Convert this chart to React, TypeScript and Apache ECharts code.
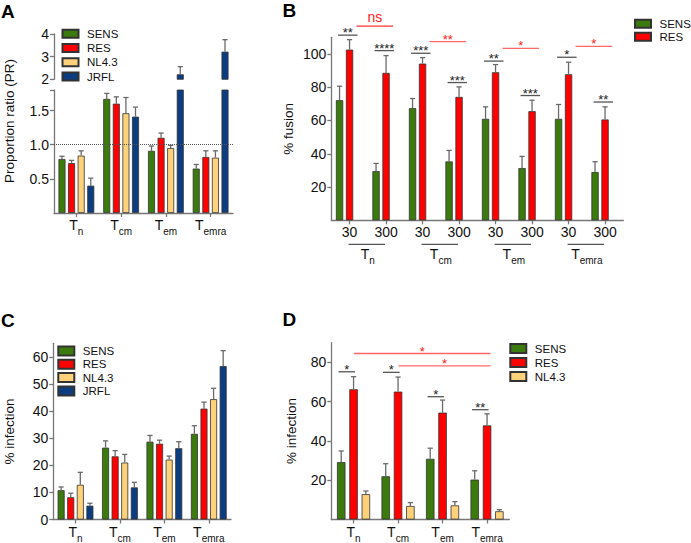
import React, { useEffect, useRef } from 'react';
import * as echarts from 'echarts';

// ---------- shared ----------
const cellTypes = ['Tn', 'Tcm', 'Tem', 'Temra'];
const seriesNames = ['SENS', 'RES', 'NL4.3', 'JRFL'];

// ---------- Panel A : proportion ratio ----------
const aSens = [0.79, 1.67, 0.91, 0.65];
const aSensErr = [0.04, 0.08, 0.07, 0.06];
const aRes = [0.73, 1.6, 1.1, 0.82];
const aResErr = [0.04, 0.1, 0.07, 0.09];
const aNl = [0.84, 1.46, 0.95, 0.81];
const aNlErr = [0.07, 0.23, 0.04, 0.1];
const aJrfl = [0.4, 1.41, 2.22, 3.22];
const aJrflErr = [0.11, 0.14, 0.34, 0.53];
const aBreakLow = 1.8;
const aBreakHigh = 2;
const aLowTicks = [0.5, 1.0, 1.5];
const aHighTicks = [2, 3, 4];
const aRefLine = 1.0;

// ---------- Panel B : % fusion ----------
const bDoses = ['30', '300', '30', '300', '30', '300', '30', '300'];
const bSens = [72.2, 29.6, 67.4, 35.4, 61, 31.4, 61, 29];
const bSensErr = [8.4, 4.6, 5.8, 6.6, 7.2, 7.0, 8.6, 6.2];
const bRes = [102.6, 88.6, 94.2, 74.2, 89, 65.6, 87.8, 60.6];
const bResErr = [6.0, 10.4, 3.6, 6.0, 4.6, 6.6, 7.2, 7.6];
const bTicks = [20, 40, 60, 80, 100];
const bMax = 110;
// [fromCategory, toCategory, height, label, kind]
const bBrackets: [number, number, number, string, string][] = [
  [0, 0, 111.3, '**', 'pair'],
  [0, 1, 116.7, 'ns', 'across'],
  [1, 1, 102, '****', 'pair'],
  [2, 2, 100.4, '***', 'pair'],
  [2, 3, 107.4, '**', 'across'],
  [3, 3, 82.8, '***', 'pair'],
  [4, 4, 95.7, '**', 'pair'],
  [4, 5, 103.4, '*', 'across'],
  [5, 5, 75, '***', 'pair'],
  [6, 6, 98, '*', 'pair'],
  [6, 7, 104.6, '*', 'across'],
  [7, 7, 71.1, '**', 'pair'],
];

// ---------- Panel C : % infection ----------
const cSens = [10.8, 26.5, 28.7, 31.6];
const cSensErr = [1.2, 2.5, 2.3, 3.0];
const cRes = [8.2, 23.3, 27.95, 40.9];
const cResErr = [1.5, 2.1, 1.3, 2.4];
const cNl = [12.8, 21, 22.1, 44.4];
const cNlErr = [4.6, 3.0, 1.3, 4.0];
const cJrfl = [5.1, 11.85, 26.3, 56.6];
const cJrflErr = [0.9, 1.85, 2.4, 5.7];
const cTicks = [0, 10, 20, 30, 40, 50, 60];
const cMax = 65;

// ---------- Panel D : % infection ----------
const dSens = [29.2, 22, 30.9, 20.3];
const dSensErr = [5.7, 6.4, 5.4, 4.5];
const dRes = [66.3, 65.1, 54.4, 47.9];
const dResErr = [6.4, 7.4, 6.4, 5.9];
const dNl = [12.9, 6.9, 7.2, 4.2];
const dNlErr = [1.6, 1.7, 1.9, 0.8];
const dTicks = [20, 40, 60, 80];
const dMax = 90;
const dBrackets: [number, number, number, string, string][] = [
  [0, 0, 75.2, '*', 'pair'],
  [0, 3, 84.5, '*', 'across'],
  [1, 1, 74.9, '*', 'pair'],
  [1, 3, 78.2, '*', 'across'],
  [2, 2, 62.5, '*', 'pair'],
  [3, 3, 55.9, '**', 'pair'],
];

// ---------- styles ----------
const FONT = '"Liberation Sans", Arial, Helvetica, sans-serif';
const COLORS: Record<string, string> = {
  SENS: '#3b7b0d',
  RES: '#ff0000',
  'NL4.3': '#fdd27b',
  JRFL: '#0b3d80',
};
const AXIS = { color: '#777777', width: 1.3 };
const ERR = '#6a6a6a';
const TXT = '#111111';

function bars(name: string, xi: number, yi: number, data: any[], bw: number, gap: string, extra: any = {}) {
  return {
    type: 'bar',
    name,
    xAxisIndex: xi,
    yAxisIndex: yi,
    data,
    barWidth: bw,
    barGap: gap,
    silent: true,
    itemStyle: { color: COLORS[name] || 'transparent', borderColor: COLORS[name] ? '#333' : 'transparent', borderWidth: 0.8 },
    ...extra,
  };
}

function errBars(id: string, xi: number, yi: number, vals: number[], errs: number[], k: number, n: number, spacing: number, keep: (v: number) => boolean) {
  const data: number[][] = [];
  vals.forEach((v, i) => {
    if (keep(v)) data.push([i, v, v + errs[i]]);
  });
  return {
    type: 'custom',
    name: id,
    xAxisIndex: xi,
    yAxisIndex: yi,
    silent: true,
    clip: false,
    z: 5,
    data,
    renderItem: (params: any, api: any) => {
      const p0 = api.coord([api.value(0), api.value(1)]);
      const p1 = api.coord([api.value(0), api.value(2)]);
      const x = p0[0] + (k - (n - 1) / 2) * spacing;
      return {
        type: 'group',
        children: [
          { type: 'line', shape: { x1: x, y1: p0[1], x2: x, y2: p1[1] }, style: { stroke: ERR, lineWidth: 1.3 } },
          { type: 'line', shape: { x1: x - 2.6, y1: p1[1], x2: x + 2.6, y2: p1[1] }, style: { stroke: ERR, lineWidth: 1.3 } },
        ],
      };
    },
  };
}

function brackets(id: string, xi: number, yi: number, list: [number, number, number, string, string][], off: { pair: number[]; across: number[] }) {
  return {
    type: 'custom',
    name: id,
    xAxisIndex: xi,
    yAxisIndex: yi,
    silent: true,
    clip: false,
    z: 6,
    data: list.map((b) => [b[0], b[2]]),
    renderItem: (params: any, api: any) => {
      const b = list[params.dataIndex];
      const red = b[4] === 'across';
      const o = red ? off.across : off.pair;
      const p1 = api.coord([b[0], b[2]]);
      const p2 = api.coord([b[1], b[2]]);
      const x1 = p1[0] + o[0];
      const x2 = p2[0] + o[1];
      const y = p1[1];
      const isNs = b[3] === 'ns';
      return {
        type: 'group',
        children: [
          { type: 'line', shape: { x1, y1: y, x2, y2: y }, style: { stroke: red ? (isNs ? '#ff3030' : '#ff6868') : '#555', lineWidth: 1.3 } },
          {
            type: 'text',
            x: (x1 + x2) / 2,
            y: isNs ? y - 9.2 : y - 2.5,
            style: {
              text: b[3],
              fill: red ? '#ff1a1a' : '#222',
              font: `${isNs ? 14 : 13}px ${FONT}`,
              textAlign: 'center',
              textVerticalAlign: 'middle',
            },
          },
        ],
      };
    },
  };
}

function tLabel(fs: number, ss: number, margin: number) {
  return {
    margin,
    interval: 0,
    hideOverlap: false,
    formatter: (v: string) => `{t|T}{s|${v.slice(1)}}`,
    rich: {
      t: { fontFamily: FONT, fontSize: fs, lineHeight: 18, color: TXT, verticalAlign: 'top' },
      s: { fontFamily: FONT, fontSize: ss, lineHeight: 10, color: TXT, verticalAlign: 'bottom' },
    },
  };
}

function catAxis(gridIndex: number, data: string[], label: any) {
  return {
    type: 'category',
    gridIndex,
    data,
    axisLine: { show: true, onZero: false, lineStyle: AXIS },
    axisTick: { show: true, alignWithLabel: true, interval: 0, length: 4, lineStyle: AXIS },
    axisLabel: label,
    splitLine: { show: false },
  };
}

function valAxis(gridIndex: number, min: number, max: number, ticks: number[], labels: number[], fmt: (v: number) => string, extra: any = {}) {
  return {
    type: 'value',
    gridIndex,
    min,
    max,
    splitLine: { show: false },
    axisLine: { show: true, lineStyle: AXIS },
    axisTick: { show: true, length: 4, lineStyle: AXIS, customValues: ticks },
    axisLabel: { fontFamily: FONT, fontSize: 14, color: TXT, margin: 5, customValues: labels, formatter: fmt },
    ...extra,
  };
}

function legend(names: string[], left: number, top: number, gap: number, ih: number) {
  return {
    orient: 'vertical',
    left,
    top,
    padding: 0,
    data: names,
    icon: 'rect',
    itemWidth: 16,
    itemHeight: ih,
    itemGap: gap,
    selectedMode: false,
    textStyle: { fontFamily: FONT, fontSize: 11.5, color: TXT, lineHeight: 12, padding: [0, 0, 0, 3.5] },
  };
}

function buildOption() {
  const aVals = [aSens, aRes, aNl, aJrfl];
  const aErrs = [aSensErr, aResErr, aNlErr, aJrflErr];
  const cVals = [cSens, cRes, cNl, cJrfl];
  const cErrs = [cSensErr, cResErr, cNlErr, cJrflErr];
  const dVals = [dSens, dRes, dNl];
  const dErrs = [dSensErr, dResErr, dNlErr];
  const bVals = [bSens, bRes];
  const bErrs = [bSensErr, bResErr];

  const series: any[] = [];
  const AW = 7, AG = '37%', AS = 7 * 1.37;
  const BW = 7.3, BG = '37%', BS = 7.3 * 1.37;
  const DW = 8.5, DG = '45%', DS = 8.5 * 1.45;

  // A upper (broken part) and lower
  aVals.forEach((vals, k) => {
    series.push(bars(seriesNames[k], 0, 0, vals.map((v) => (v > aBreakLow ? v : '-')), AW, AG));
  });
  aVals.forEach((vals, k) => {
    series.push(
      bars(seriesNames[k], 1, 1, vals, AW, AG,
        k === 0
          ? {
              markLine: {
                silent: true,
                symbol: 'none',
                label: { show: false },
                lineStyle: { type: 'dotted', color: '#555', width: 1 },
                data: [{ yAxis: aRefLine }],
              },
            }
          : {})
    );
  });
  aVals.forEach((vals, k) => {
    series.push(errBars(`errAu${k}`, 0, 0, vals, aErrs[k], k, 4, AS, (v) => v > aBreakLow));
    series.push(errBars(`errAl${k}`, 1, 1, vals, aErrs[k], k, 4, AS, (v) => v <= aBreakLow));
  });

  // B
  bVals.forEach((vals, k) => series.push(bars(seriesNames[k], 2, 2, vals, BW, BG)));
  series.push(bars('padB', 2, 2, bDoses.map(() => '-'), BW, BG));
  bVals.forEach((vals, k) => series.push(errBars(`errB${k}`, 2, 2, vals, bErrs[k], k, 3, BS, () => true)));
  series.push(brackets('brB', 2, 2, bBrackets, { pair: [-11.5, 8], across: [7, 7] }));
  // group underlines for B
  const groups = cellTypes.map((_, i) => [2 * i, 2 * i + 1]);
  series.push({
    type: 'custom',
    name: 'grpB',
    xAxisIndex: 2,
    yAxisIndex: 2,
    silent: true,
    clip: false,
    data: groups.map((g) => [g[0], 0, g[1]]),
    renderItem: (params: any, api: any) => {
      const p1 = api.coord([api.value(0), 0]);
      const p2 = api.coord([api.value(2), 0]);
      const y = p1[1] + 24;
      return { type: 'line', shape: { x1: p1[0] - 1, y1: y, x2: p2[0] - 1, y2: y }, style: { stroke: '#555', lineWidth: 1.2 } };
    },
  });

  // C
  cVals.forEach((vals, k) => series.push(bars(seriesNames[k], 4, 3, vals, AW, AG)));
  cVals.forEach((vals, k) => series.push(errBars(`errC${k}`, 4, 3, vals, cErrs[k], k, 4, AS, () => true)));

  // D
  dVals.forEach((vals, k) => series.push(bars(seriesNames[k], 5, 4, vals, DW, DG)));
  dVals.forEach((vals, k) => series.push(errBars(`errD${k}`, 5, 4, vals, dErrs[k], k, 3, DS, () => true)));
  series.push(brackets('brD', 5, 4, dBrackets, { pair: [-15, 1.5], across: [0.5, 3.5] }));

  const nameStyle = { fontFamily: FONT, fontSize: 13.5, color: TXT };

  return {
    animation: false,
    backgroundColor: '#ffffff',
    textStyle: { fontFamily: FONT },
    grid: [
      { left: 54, top: 34, width: 179, height: 45.3 },
      { left: 54, top: 90, width: 179, height: 123 },
      { left: 331.3, top: 37.3, width: 292, height: 183 },
      { left: 53.3, top: 343.3, width: 177.7, height: 177.4 },
      { left: 331.3, top: 342.7, width: 178, height: 178.3 },
    ],
    xAxis: [
      { type: 'category', gridIndex: 0, data: cellTypes, show: false },
      catAxis(1, cellTypes, tLabel(14, 10, 5)),
      catAxis(2, bDoses, { fontFamily: FONT, fontSize: 14, color: TXT, margin: 5, interval: 0, hideOverlap: false }),
      {
        type: 'category',
        gridIndex: 2,
        data: cellTypes,
        position: 'bottom',
        offset: 22,
        axisLine: { show: false },
        axisTick: { show: false },
        axisLabel: tLabel(14, 10, 5),
      },
      catAxis(3, cellTypes, tLabel(14, 10, 5.5)),
      catAxis(4, cellTypes, tLabel(14, 10, 5.5)),
    ],
    yAxis: [
      valAxis(0, aBreakHigh, aHighTicks[aHighTicks.length - 1], aHighTicks, aHighTicks, (v) => String(v)),
      valAxis(1, 0, aBreakLow, [...aLowTicks, aBreakLow], aLowTicks, (v) => v.toFixed(1)),
      valAxis(2, 0, bMax, bTicks, bTicks, (v) => String(v), {
        name: '% fusion', nameLocation: 'middle', nameRotate: 90, nameGap: 35.5, nameTextStyle: nameStyle,
      }),
      valAxis(3, 0, cMax, cTicks, cTicks, (v) => String(v), {
        name: '% infection', nameLocation: 'middle', nameRotate: 90, nameGap: 36.5, nameTextStyle: nameStyle,
      }),
      valAxis(4, 0, dMax, dTicks, dTicks, (v) => String(v), {
        name: '% infection', nameLocation: 'middle', nameRotate: 90, nameGap: 32.5, nameTextStyle: nameStyle,
      }),
    ],
    legend: [
      legend(seriesNames, 61.5, 27.7, 2.3, 8),
      legend(seriesNames.slice(0, 2), 634, 17.8, 1, 8),
      legend(seriesNames, 57.3, 345, 1.3, 9),
      legend(seriesNames.slice(0, 3), 509.3, 342.5, 2, 9),
    ],
    graphic: [
      { type: 'text', x: 1, y: 1.8, style: { text: 'A', font: `bold 19px ${FONT}`, fill: '#000', textAlign: 'left', textVerticalAlign: 'top' } },
      { type: 'text', x: 282.5, y: 0.5, style: { text: 'B', font: `bold 19px ${FONT}`, fill: '#000', textAlign: 'left', textVerticalAlign: 'top' } },
      { type: 'text', x: 1, y: 311, style: { text: 'C', font: `bold 19px ${FONT}`, fill: '#000', textAlign: 'left', textVerticalAlign: 'top' } },
      { type: 'text', x: 282.5, y: 309.5, style: { text: 'D', font: `bold 19px ${FONT}`, fill: '#000', textAlign: 'left', textVerticalAlign: 'top' } },
      {
        type: 'text',
        x: 9.2,
        y: 121,
        rotation: Math.PI / 2,
        style: { text: 'Proportion ratio (PR)', font: `13.5px ${FONT}`, fill: TXT, textAlign: 'center', textVerticalAlign: 'middle' },
      },
    ],
    series,
  };
}

export default function App() {
  const ref = useRef<HTMLDivElement>(null);
  useEffect(() => {
    const chart = echarts.init(ref.current!, null, { renderer: 'svg' });
    chart.setOption(buildOption() as any);
    return () => chart.dispose();
  }, []);
  return (
    <div
      ref={ref}
      style={{ position: 'fixed', left: 0, top: 0, width: 691, height: 543, background: '#ffffff' }}
    />
  );
}
